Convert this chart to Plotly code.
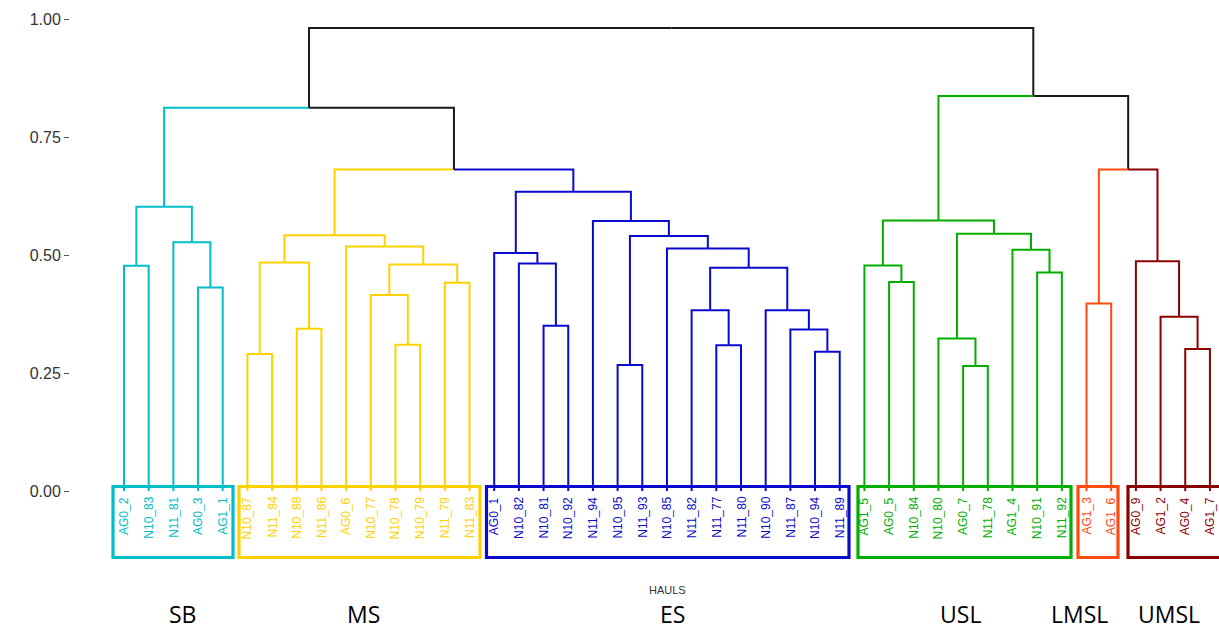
import plotly.graph_objects as go

# ---------------- data ----------------
leaf_labels = [
    "AG0_2", "N10_83", "N11_81", "AG0_3", "AG1_1",
    "N10_87", "N11_84", "N10_88", "N11_86", "AG0_6", "N10_77", "N10_78", "N10_79", "N11_79", "N11_83",
    "AG0_1", "N10_82", "N10_81", "N10_92", "N11_94", "N10_95", "N11_93", "N10_85", "N11_82", "N11_77",
    "N11_80", "N10_90", "N11_87", "N10_94", "N11_89",
    "AG1_5", "AG0_5", "N10_84", "N10_80", "AG0_7", "N11_78", "AG1_4", "N10_91", "N11_92",
    "AG1_3", "AG1_6",
    "AG0_9", "AG1_2", "AG0_4", "AG1_7",
]
leaf_groups = (["SB"] * 5 + ["MS"] * 10 + ["ES"] * 15 + ["USL"] * 9
               + ["LMSL"] * 2 + ["UMSL"] * 4)

group_names = ["SB", "MS", "ES", "USL", "LMSL", "UMSL"]
group_colors = ["#00BEC8", "#FFD100", "#0A0ACD", "#00AE00", "#FF4A10", "#8B0000"]

# hierarchical merges (internal node k is called "n<k>")
merge_left = [
    "AG0_2", "AG0_3", "N11_81", "n1",
    "N10_87", "N10_88", "n5", "N10_78", "N10_77", "N11_79", "n9", "AG0_6", "n7",
    "N10_81", "N10_82", "AG0_1", "N10_95", "N11_77", "N11_82", "N10_94", "N11_87", "N10_90",
    "n19", "N10_85", "n17", "N11_94", "n16",
    "n13", "n4",
    "AG0_5", "AG1_5", "AG0_7", "N10_80", "N10_91", "AG1_4", "n33", "n31",
    "AG1_3", "AG0_4", "AG1_2", "AG0_9", "n38", "n37", "n29",
]
merge_right = [
    "N10_83", "AG1_1", "n2", "n3",
    "N11_84", "N11_86", "n6", "N10_79", "n8", "N11_83", "n10", "n11", "n12",
    "N10_92", "n14", "n15", "N11_93", "N11_80", "n18", "N11_89", "n20", "n21",
    "n22", "n23", "n24", "n25", "n26",
    "n27", "n28",
    "N10_84", "n30", "N11_78", "n32", "N11_92", "n34", "n35", "n36",
    "AG1_6", "AG1_7", "n39", "n40", "n41", "n42", "n43",
]
merge_height = [
    0.477, 0.431, 0.527, 0.602,
    0.290, 0.344, 0.484, 0.310, 0.415, 0.441, 0.480, 0.518, 0.542,
    0.350, 0.482, 0.504, 0.267, 0.309, 0.383, 0.295, 0.342, 0.383,
    0.473, 0.514, 0.540, 0.572, 0.634,
    0.681, 0.812,
    0.443, 0.478, 0.265, 0.323, 0.463, 0.511, 0.545, 0.573,
    0.397, 0.301, 0.369, 0.487, 0.681, 0.837, 0.981,
]

y_tick_vals = [0.0, 0.25, 0.50, 0.75, 1.00]
y_tick_text = ["0.00", "0.25", "0.50", "0.75", "1.00"]

# ---------------- layout geometry ----------------
W, H = 1219, 632
ML, MT = 70, 10
px_y1, px_y0 = 19.0, 491.0          # pixel rows of dissimilarity 1 and 0
unit = px_y0 - px_y1
y_range = [(px_y0 - H) / unit, (px_y0 - MT) / unit]
leaf_px0, leaf_step = 124.0, 24.68
x_range = [-(leaf_px0 - ML) / leaf_step, (W - leaf_px0) / leaf_step]


def yv(py):
    return (px_y0 - py) / unit


def xv(px):
    return (px - leaf_px0) / leaf_step


color_of = dict(zip(group_names, group_colors))
BLACK = "#1a1a1a"

pos, hgt, grp = {}, {}, {}
for i, (lab, g) in enumerate(zip(leaf_labels, leaf_groups)):
    pos[lab], hgt[lab], grp[lab] = float(i), 0.0, {g}

segs = {}
for k, (a, b, h) in enumerate(zip(merge_left, merge_right, merge_height), start=1):
    name = f"n{k}"
    pos[name] = (pos[a] + pos[b]) / 2
    hgt[name] = h
    grp[name] = grp[a] | grp[b]
    for c in (a, b):
        col = color_of[next(iter(grp[c]))] if len(grp[c]) == 1 else BLACK
        xs, ys = segs.setdefault(col, ([], []))
        xs += [pos[c], pos[c], pos[name], None]
        ys += [hgt[c], h, h, None]

fig = go.Figure()
for col, (xs, ys) in segs.items():
    fig.add_trace(go.Scatter(x=xs, y=ys, mode="lines",
                             line=dict(color=col, width=2),
                             hoverinfo="skip", showlegend=False))

# leaf labels
for i, (lab, g) in enumerate(zip(leaf_labels, leaf_groups)):
    fig.add_annotation(x=i, y=yv(495), text=lab, textangle=-90, showarrow=False,
                       xanchor="center", yanchor="top",
                       font=dict(family="Liberation Sans, Arial", size=12, color=color_of[g]))

# group boxes and group names (pixel layout positions)
box_px = {"SB": (113, 233), "MS": (239, 480), "ES": (486.5, 849), "USL": (858, 1071),
          "LMSL": (1078, 1118), "UMSL": (1128, 1240)}
group_label_px = {"SB": 182, "MS": 363, "ES": 672, "USL": 960, "LMSL": 1079, "UMSL": 1169}
for g in group_names:
    x0p, x1p = box_px[g]
    fig.add_shape(type="rect", x0=xv(x0p), x1=xv(x1p),
                  y0=yv(486.5), y1=yv(557.5),
                  line=dict(color=color_of[g], width=3.2), fillcolor="rgba(0,0,0,0)")
    fig.add_annotation(x=xv(group_label_px[g]), y=yv(631), text=g, showarrow=False,
                       xanchor="center", yanchor="bottom", borderpad=0,
                       font=dict(family="Open Sans", size=23, color="#000000"))

fig.add_annotation(x=xv(667), y=yv(590), text="HAULS", showarrow=False,
                   xanchor="center", yanchor="middle",
                   font=dict(family="Liberation Sans, Arial", size=11, color="#333333"))
fig.add_annotation(x=xv(18), y=yv(288), text="DISSIMILARITY", textangle=-90, showarrow=False,
                   xanchor="center", yanchor="middle",
                   font=dict(family="Liberation Sans, Arial", size=12.5, color="#333333"))

fig.update_layout(
    width=W, height=H,
    margin=dict(l=ML, r=0, t=MT, b=0),
    paper_bgcolor="white", plot_bgcolor="white",
    xaxis=dict(range=x_range, visible=False, fixedrange=True),
    yaxis=dict(range=y_range, tickvals=y_tick_vals, ticktext=y_tick_text,
               showgrid=False, zeroline=False, showline=False,
               ticks="outside", ticklen=5, tickwidth=1, tickcolor="#555555",
               tickfont=dict(family="Liberation Sans, Arial", size=16, color="#333333"),
               fixedrange=True),
)

fig.write_html("out.html", config={"displayModeBar": False},
               post_script="document.body.style.margin='0px';document.body.style.overflow='hidden';")
